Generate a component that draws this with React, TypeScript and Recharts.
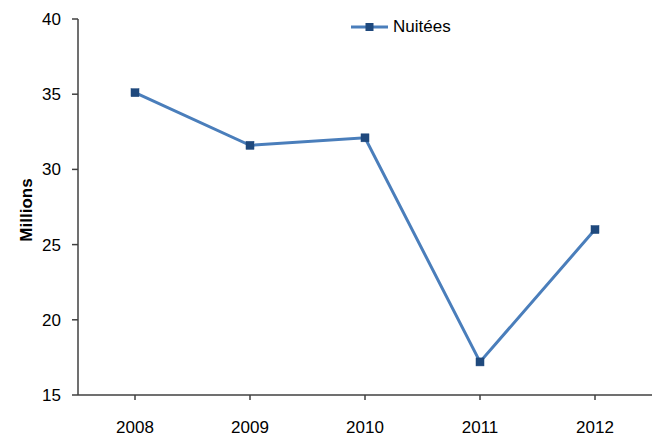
import React from 'react'
import { LineChart, Line, XAxis, YAxis, Legend } from 'recharts'

const years = ['2008', '2009', '2010', '2011', '2012']
const nuitees = [35.1, 31.6, 32.1, 17.2, 26.0]
const yTicks = [15, 20, 25, 30, 35, 40]

const data = years.map((year, i) => ({ year, nuitees: nuitees[i] }))

const FONT = '"Liberation Sans", Arial, sans-serif'
const LINE_COLOR = '#4a7ebb'
const MARKER_COLOR = '#1f497d'
const AXIS_COLOR = '#404040'

const SquareDot = (props: any) => {
  const { cx, cy } = props
  if (cx == null || cy == null) return null
  return <rect x={cx - 4} y={cy - 4} width={8} height={8} fill={MARKER_COLOR} stroke={MARKER_COLOR} strokeWidth={0.5} />
}

const LegendContent = () => (
  <div style={{ display: 'flex', alignItems: 'center', fontFamily: FONT, fontSize: 17, color: '#000' }}>
    <svg width={40} height={12} style={{ marginRight: 3 }}>
      <line x1={1} y1={6} x2={38} y2={6} stroke={LINE_COLOR} strokeWidth={3} />
      <rect x={15.5} y={2} width={8} height={8} fill={MARKER_COLOR} />
    </svg>
    <span>Nuitées</span>
  </div>
)

const YLabel = (props: any) => {
  const { viewBox } = props
  const x = viewBox.x + 26
  const y = viewBox.y + viewBox.height / 2 + 3
  return (
    <text
      x={x}
      y={y}
      transform={`rotate(-90, ${x}, ${y})`}
      textAnchor="middle"
      dominantBaseline="central"
      fontFamily={FONT}
      fontSize={17}
      fontWeight="bold"
      fill="#000"
    >
      Millions
    </text>
  )
}

export default function App() {
  return (
    <div style={{ width: 656, height: 439, background: '#fff', position: 'relative' }}>
      <style>{`body{margin:0}`}</style>
      <LineChart width={656} height={439} data={data} margin={{ top: 19, right: 4, bottom: 0, left: 0 }}>
        <XAxis
          dataKey="year"
          height={44}
          padding={{ left: 57, right: 57 }}
          stroke={AXIS_COLOR}
          strokeWidth={1.5}
          tickSize={5}
          tickMargin={21}
          tick={{ fill: '#000', fontSize: 17, fontFamily: FONT }}
        />
        <YAxis
          width={78}
          domain={[15, 40]}
          ticks={yTicks}
          interval={0}
          stroke={AXIS_COLOR}
          strokeWidth={1.5}
          tickSize={6}
          tickMargin={11}
          tick={{ fill: '#000', fontSize: 17, fontFamily: FONT }}
          label={<YLabel />}
        />
        <Legend
          layout="horizontal"
          verticalAlign="middle"
          align="center"
          content={<LegendContent />}
          wrapperStyle={{ top: 17, left: 350, width: 'auto' }}
        />
        <Line
          dataKey="nuitees"
          name="Nuitées"
          type="linear"
          stroke={LINE_COLOR}
          strokeWidth={3}
          dot={<SquareDot />}
          activeDot={false}
          isAnimationActive={false}
        />
      </LineChart>
    </div>
  )
}
